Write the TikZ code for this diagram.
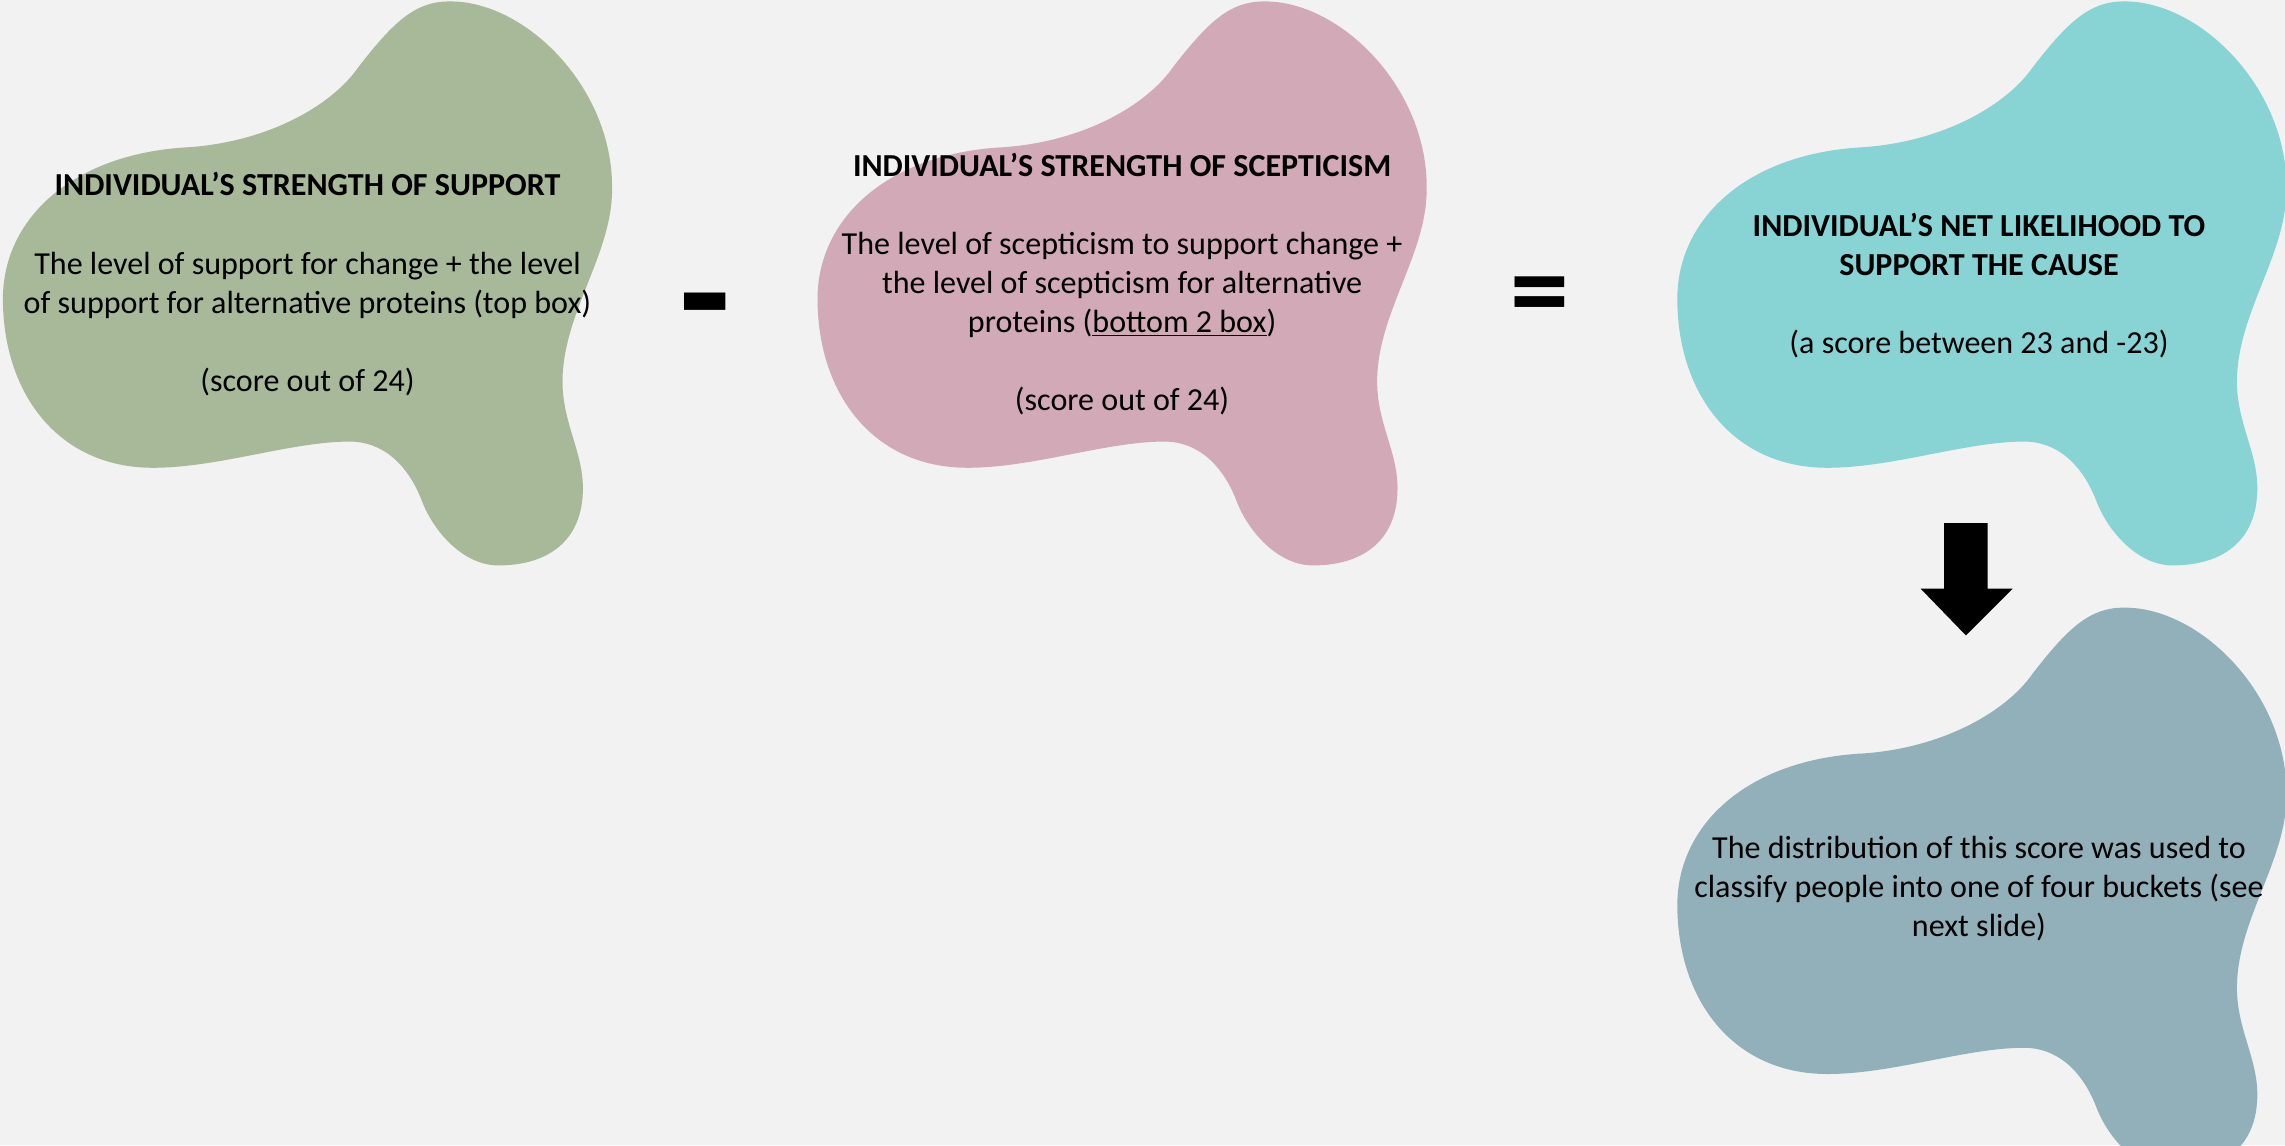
\documentclass[tikz,border=0pt]{standalone}
\usepackage{fontspec}
\setmainfont{Carlito}
\definecolor{bgc}{HTML}{F2F2F2}
\definecolor{greenc}{HTML}{A8B99A}
\definecolor{pinkc}{HTML}{D1A9B7}
\definecolor{cyanc}{HTML}{88D3D4}
\definecolor{slatec}{HTML}{91B0B9}
\tikzset{
  blob/.pic={\fill[pic actions] (308,1)
    .. controls (360,0) and (421,60) .. (420,130)
    .. controls (420,175) and (386,215) .. (386,262)
    .. controls (386,290) and (400,310) .. (400,335)
    .. controls (400,372) and (375,388) .. (342,388)
    .. controls (318,388) and (298,365) .. (290,345)
    .. controls (280,318) and (262,303) .. (240,303)
    .. controls (200,303) and (150,321) .. (105,321)
    .. controls (40,321) and (2,270) .. (2,205)
    .. controls (2,150) and (50,105) .. (130,101)
    .. controls (185,97) and (228,72) .. (246,46)
    .. controls (270,15) and (285,1) .. (308,1) -- cycle;},
  blobtext/.style={align=center, anchor=center, inner sep=0pt,
    font=\fontsize{22}{26.8}\selectfont, text=black},
  opsign/.style={inner sep=0pt, anchor=base, font=\bfseries}
}
\begin{document}
\begin{tikzpicture}[x=1pt, y=-1pt]
\fill[bgc] (0,0) rectangle (1568,786);
\useasboundingbox (0,0) rectangle (1568,786);
\begin{scope}
\clip (0,0) rectangle (1568,786);
\pic[fill=greenc] at (0,0) {blob};
\pic[fill=pinkc] at (559,0) {blob};
\pic[fill=cyanc] at (1149,0) {blob};
\pic[fill=slatec] at (1149,416) {blob};
\end{scope}

\node[blobtext] (support) at (211,195) {\textbf{INDIVIDUAL’S STRENGTH OF SUPPORT}\\[26.8pt]
The level of support for change + the level\\
of support for alternative proteins (top box)\\[26.8pt]
(score out of 24)};

\node[blobtext] (scept) at (770,195) {\textbf{INDIVIDUAL’S STRENGTH OF SCEPTICISM}\\[26.8pt]
The level of scepticism to support change +\\
the level of scepticism for alternative\\
proteins (\underline{bottom 2 box})\\[26.8pt]
(score out of 24)};

\node[blobtext] (net) at (1358,196) {\textbf{INDIVIDUAL’S NET LIKELIHOOD TO}\\
\textbf{SUPPORT THE CAUSE}\\[26.8pt]
(a score between 23 and -23)};

\node[blobtext] (dist) at (1358,610) {The distribution of this score was used to\\
classify people into one of four buckets (see\\
next slide)};

\node[opsign, font=\fontsize{115}{115}\selectfont\bfseries] (minus) at (484,240) {-};
\node[opsign, font=\fontsize{81}{81}\selectfont\bfseries] (equals) at (1057,226) {=};

\fill[black] (1334,359) -- (1364,359) -- (1364,404) -- (1381,404) -- (1349,436)
  -- (1318,404) -- (1334,404) -- cycle;
\end{tikzpicture}
\end{document}
